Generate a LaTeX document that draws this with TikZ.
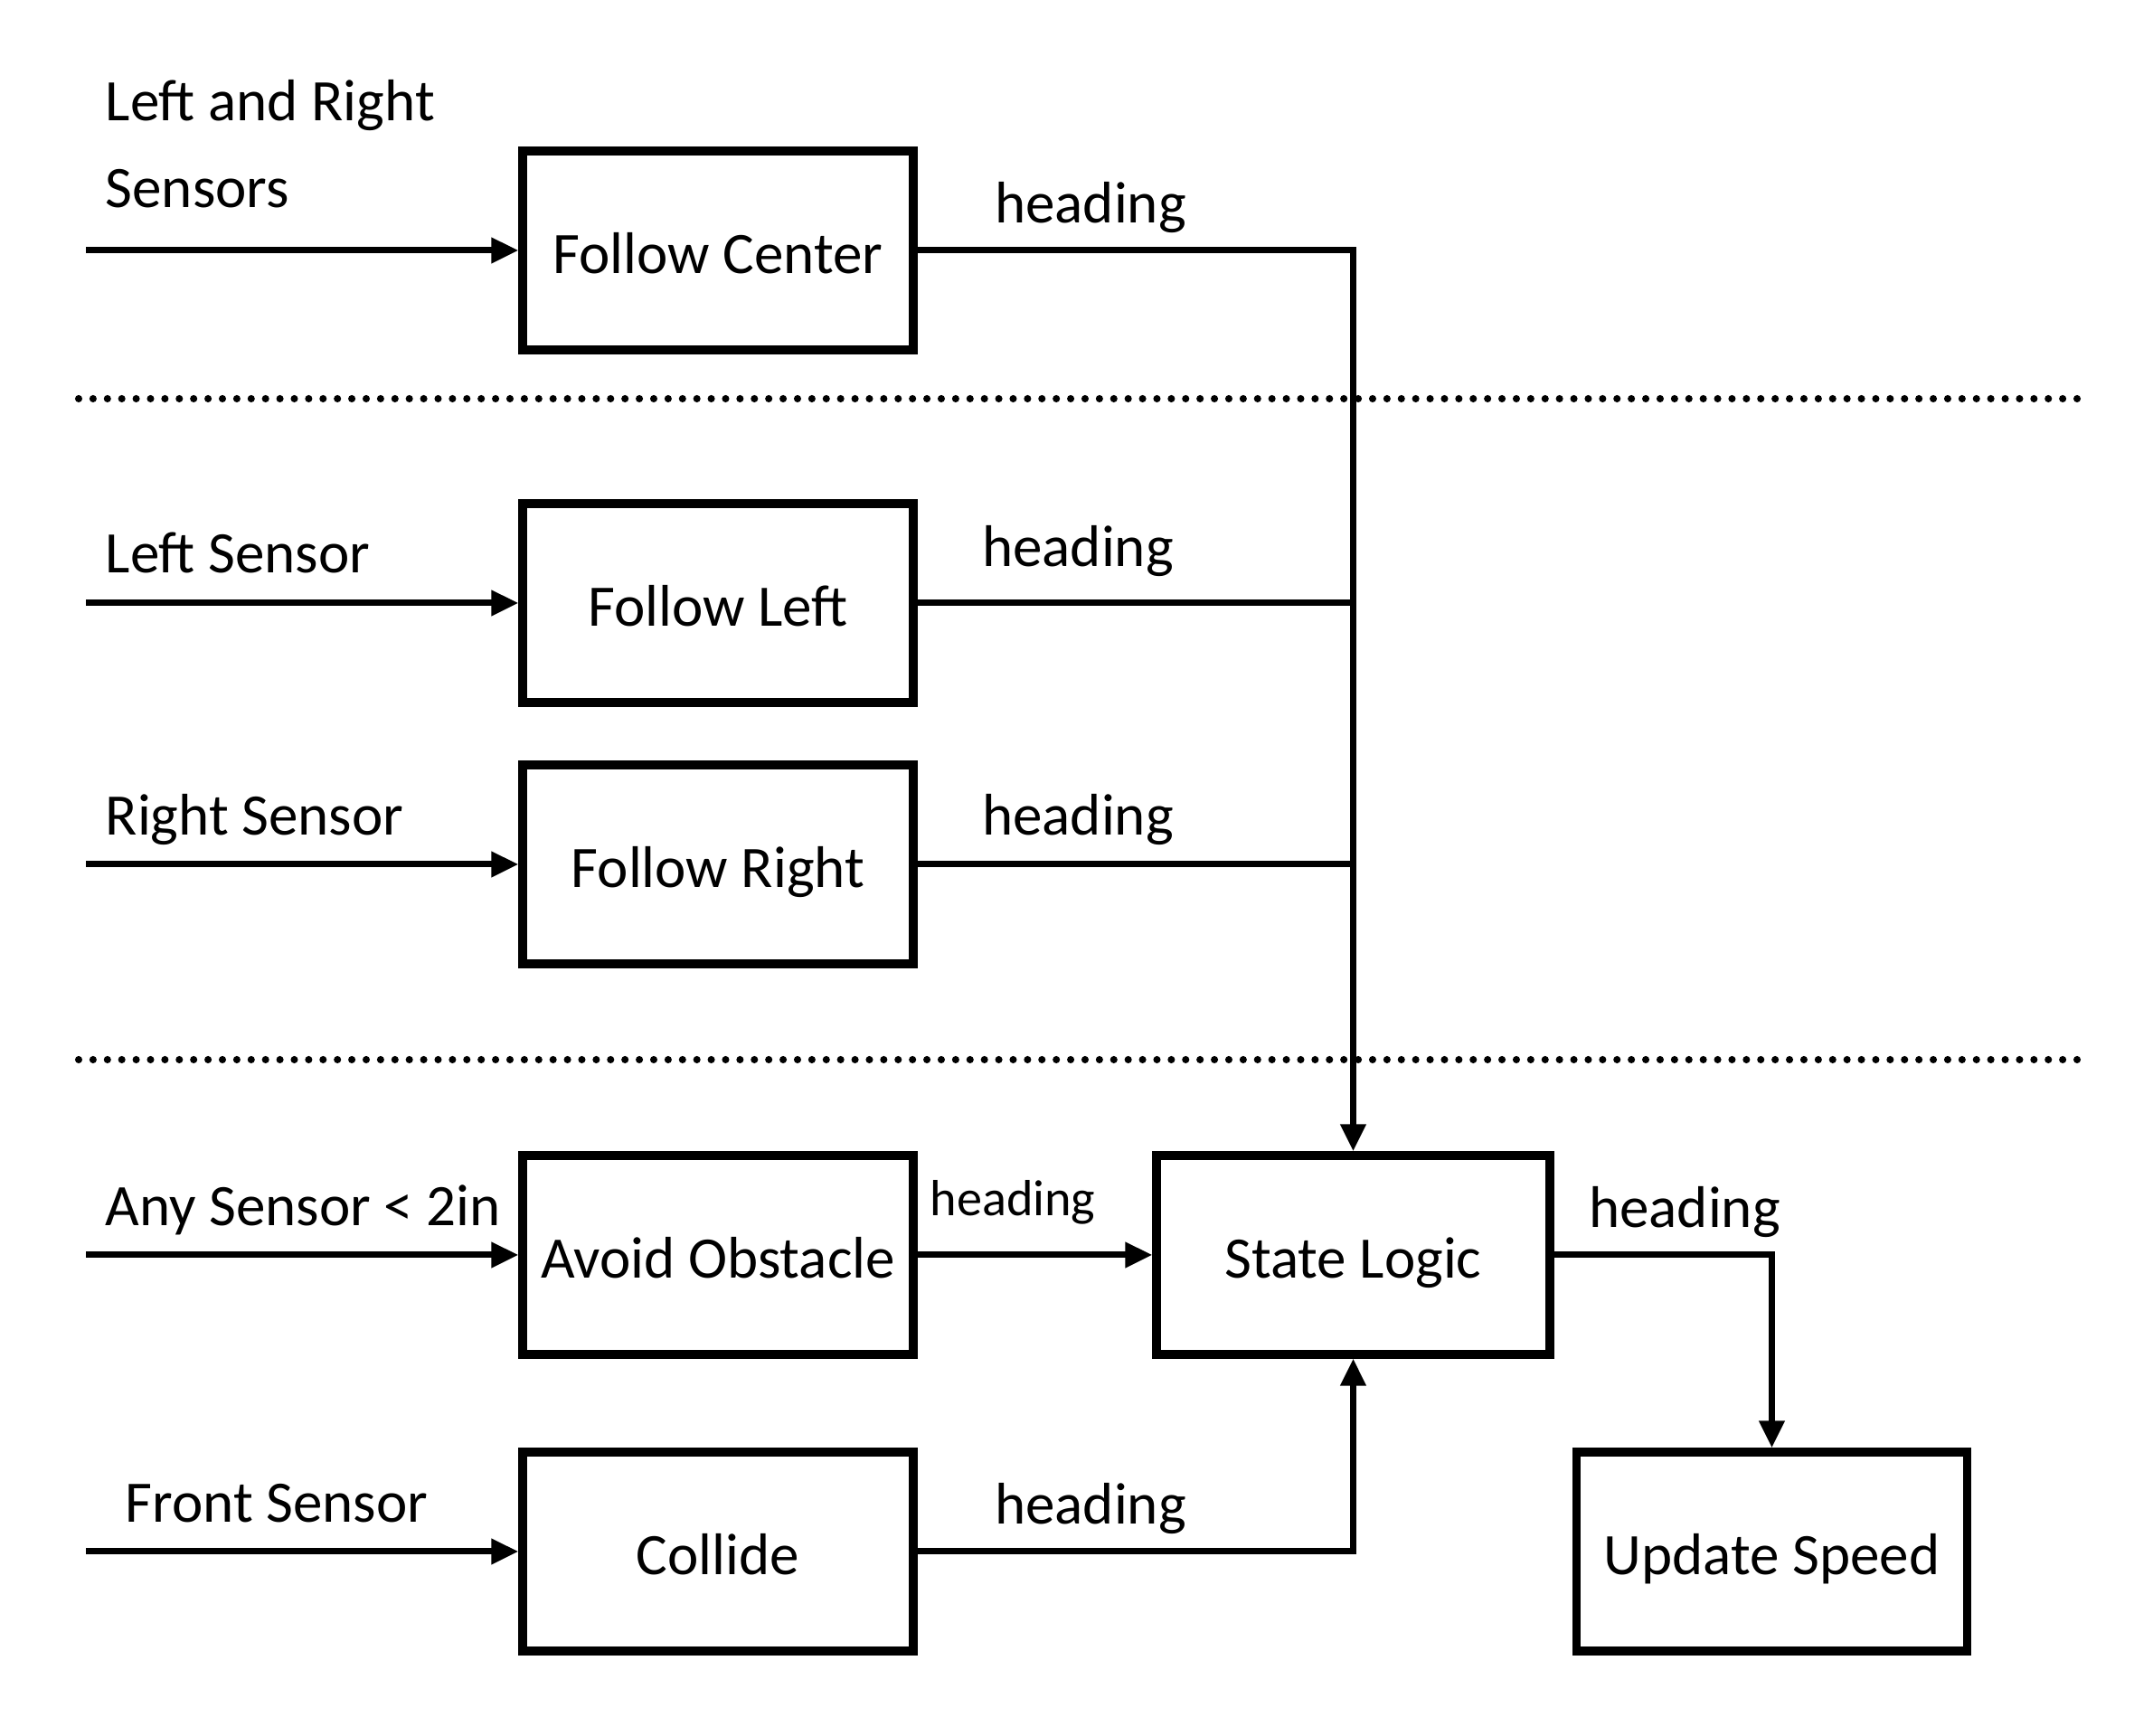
\documentclass[tikz,border=0pt]{standalone}
\usepackage{fontspec}
\setmainfont{Carlito}
\usepackage{tikz}
\usetikzlibrary{positioning,arrows.meta}

\tikzset{
  blk/.style={draw,line width=2.6pt,minimum width=4.32cm,minimum height=2.2cm,inner sep=0pt,text height=14.5pt,text depth=0pt,font=\fontsize{18.5}{22}\selectfont},
  lbl/.style={inner sep=0pt,font=\fontsize{18.5}{22}\selectfont},
  wire/.style={line width=2pt},
  arr/.style={line width=2pt,-{Triangle[length=0.3cm,width=0.27cm]}},
  sep/.style={line width=2.3pt,line cap=round,dash pattern=on 0pt off 0.159cm}
}

\begin{document}
\begin{tikzpicture}[scale=1]
  \useasboundingbox (0,0) rectangle (23.6,19.2);
  \node[blk] (fc) at (7.94,16.43) {Follow Center};
  \node[blk] (fl) at (7.94,12.53) {Follow Left};
  \node[blk] (fr) at (7.94,9.64) {Follow Right};
  \node[blk] (ao) at (7.94,5.32) {Avoid Obstacle};
  \node[blk] (co) at (7.94,2.04) {Collide};
  \node[blk,minimum width=4.35cm] (sl) at (14.965,5.32) {State Logic};
  \node[blk] (us) at (19.595,2.04) {Update Speed};
  \coordinate (infc) at (0.95,16.43);
  \coordinate (infl) at (0.95,12.53);
  \coordinate (infr) at (0.95,9.64);
  \coordinate (inao) at (0.95,5.32);
  \coordinate (inco) at (0.95,2.04);
  \coordinate (sepAa) at (0.87,14.79);
  \coordinate (sepAb) at (23.03,14.79);
  \coordinate (sepBa) at (0.87,7.48);
  \coordinate (sepBb) at (23.03,7.48);
  \draw[sep] (sepAa) -- (sepAb);
  \draw[sep] (sepBa) -- (sepBb);
  \draw[arr] (infc) -- (fc.west);
  \draw[arr] (infl) -- (fl.west);
  \draw[arr] (infr) -- (fr.west);
  \draw[arr] (inao) -- (ao.west);
  \draw[arr] (inco) -- (co.west);
  \draw[arr] (fc.east) -| (sl.north);
  \draw[wire] (fl.east) -- (fl.east -| sl.north);
  \draw[wire] (fr.east) -- (fr.east -| sl.north);
  \draw[arr] (ao.east) -- (sl.west);
  \draw[arr] (co.east) -| (sl.south);
  \draw[arr] (sl.east) -| (us.north);
  \node[lbl,anchor=base west] (tlr) at (1.16,17.86) {Left and Right};
  \node[lbl,anchor=base west] (tsn) at (1.16,16.90) {Sensors};
  \node[lbl,anchor=base west] (tls) at (1.16,12.86) {Left Sensor};
  \node[lbl,anchor=base west] (trs) at (1.16,9.96) {Right Sensor};
  \node[lbl,anchor=base west] (tas) at (1.16,5.64) {Any Sensor < 2in};
  \node[lbl,anchor=base west] (tfs) at (1.38,2.36) {Front Sensor};
  \node[lbl,anchor=base] (hfc) at (12.06,16.73) {heading};
  \node[lbl,anchor=base] (hfl) at (11.92,12.93) {heading};
  \node[lbl,anchor=base] (hfr) at (11.92,9.96) {heading};
  \node[lbl,anchor=base,font=\fontsize{16}{19}\selectfont] (hao) at (11.20,5.75) {heading};
  \node[lbl,anchor=base] (hsl) at (18.63,5.62) {heading};
  \node[lbl,anchor=base] (hco) at (12.06,2.34) {heading};
\end{tikzpicture}
\end{document}
